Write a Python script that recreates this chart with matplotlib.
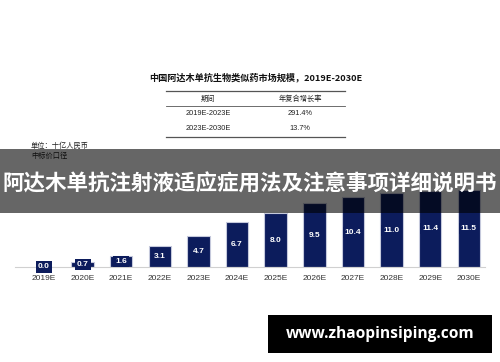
import matplotlib
matplotlib.use('Agg')
import matplotlib.pyplot as plt
from matplotlib.patches import Rectangle
from matplotlib.lines import Line2D

# data
years = ['2019E', '2020E', '2021E', '2022E', '2023E', '2024E',
         '2025E', '2026E', '2027E', '2028E', '2029E', '2030E']
market = [0.0, 0.7, 1.6, 3.1, 4.7, 6.7, 8.0, 9.5, 10.4, 11.0, 11.4, 11.5]
periods = ['2019E-2023E', '2023E-2030E']
cagr = ['291.4%', '13.7%']

title = '中国阿达木单抗生物类似药市场规模，2019E-2030E'
unit_lines = ['单位：十亿人民币', '中标价口径']
banner = '阿达木单抗注射液适应症用法及注意事项详细说明书'
site = 'www.zhaopinsiping.com'

CJK = ['Noto Sans CJK SC', 'DejaVu Sans']
LAT = ['Liberation Sans', 'DejaVu Sans']
NAVY = '#0c1c5c'

W, H = 500, 362
fig = plt.figure(figsize=(W / 100, H / 100), dpi=100)
fig.patch.set_facecolor('white')

def fx(px):
  return px / W

def fy(py):
  # pixel measured from top -> figure fraction
  return 1 - py / H

# bar axes
ax = fig.add_axes([fx(15), fy(267), fx(470), (267 - 185) / H])
x = range(len(years))
ax.bar(x, market, width=0.58, color=NAVY, edgecolor='#c5c9dc', linewidth=0.8, zorder=2)
for i, v in enumerate(market):
  ax.text(i, v / 2, f'{v:.1f}', ha='center', va='center', color='white',
          fontsize=6, family=LAT, fontweight='bold', zorder=3,
          bbox=dict(boxstyle='square,pad=0.25', fc=NAVY, ec='none'))
ax.set_xlim(-0.75, 11.42)
ax.set_ylim(0, 12.24)
ax.set_xticks(list(x))
ax.set_xticklabels(years, fontsize=6, family=LAT, color='#333333')
ax.tick_params(axis='x', length=0, pad=6)
ax.set_yticks([])
for s in ['top', 'right', 'left']:
  ax.spines[s].set_visible(False)
ax.spines['bottom'].set_color('#d0d0d0')
ax.spines['bottom'].set_linewidth(0.8)
ax.patch.set_alpha(0)

# title and table
fig.text(fx(255.5), fy(77), title, ha='center', va='center', fontsize=6.6,
         family=CJK, fontweight='bold', color='#111111')
for py, lw in [(90.7, 0.9), (106, 0.6), (137, 0.9)]:
  fig.add_artist(Line2D([fx(166), fx(345)], [fy(py), fy(py)], color='#555555', lw=lw))
fig.text(fx(208), fy(99), '期间', ha='center', va='center', fontsize=5.2, family=CJK, color='#222222')
fig.text(fx(300), fy(99), '年复合增长率', ha='center', va='center', fontsize=5.2, family=CJK, color='#222222')
for k, (p, c) in enumerate(zip(periods, cagr)):
  py = 113.5 + k * 15.5
  fig.text(fx(208), fy(py), p, ha='center', va='center', fontsize=5.3, family=LAT, color='#222222')
  fig.text(fx(300), fy(py), c, ha='center', va='center', fontsize=5.3, family=LAT, color='#222222')

# unit notes
fig.text(fx(31), fy(146), unit_lines[0], ha='left', va='center', fontsize=5.2, family=CJK, color='#222222')
fig.text(fx(31), fy(155.5), unit_lines[1], ha='left', va='center', fontsize=5.2, family=CJK, color='#222222')

# overlay banner
fig.add_artist(Rectangle((0, fy(212.5)), 1, (212.5 - 149) / H, transform=fig.transFigure,
                         facecolor='black', alpha=0.6, edgecolor='none', zorder=5))
fig.text(0.5, fy(184), banner, ha='center', va='center', fontsize=15.5, family=CJK,
         fontweight='bold', color='white', zorder=6)

# watermark box
fig.add_artist(Rectangle((fx(268), fy(353)), fx(224), (353 - 315) / H, transform=fig.transFigure,
                         facecolor='black', edgecolor='none', zorder=5))
fig.text(fx(380), fy(334.5), site, ha='center', va='center', fontsize=11.2,
         family=['Open Sans', 'DejaVu Sans'], fontweight='bold', color='white', zorder=6)

fig.savefig('out.png', dpi=100)
